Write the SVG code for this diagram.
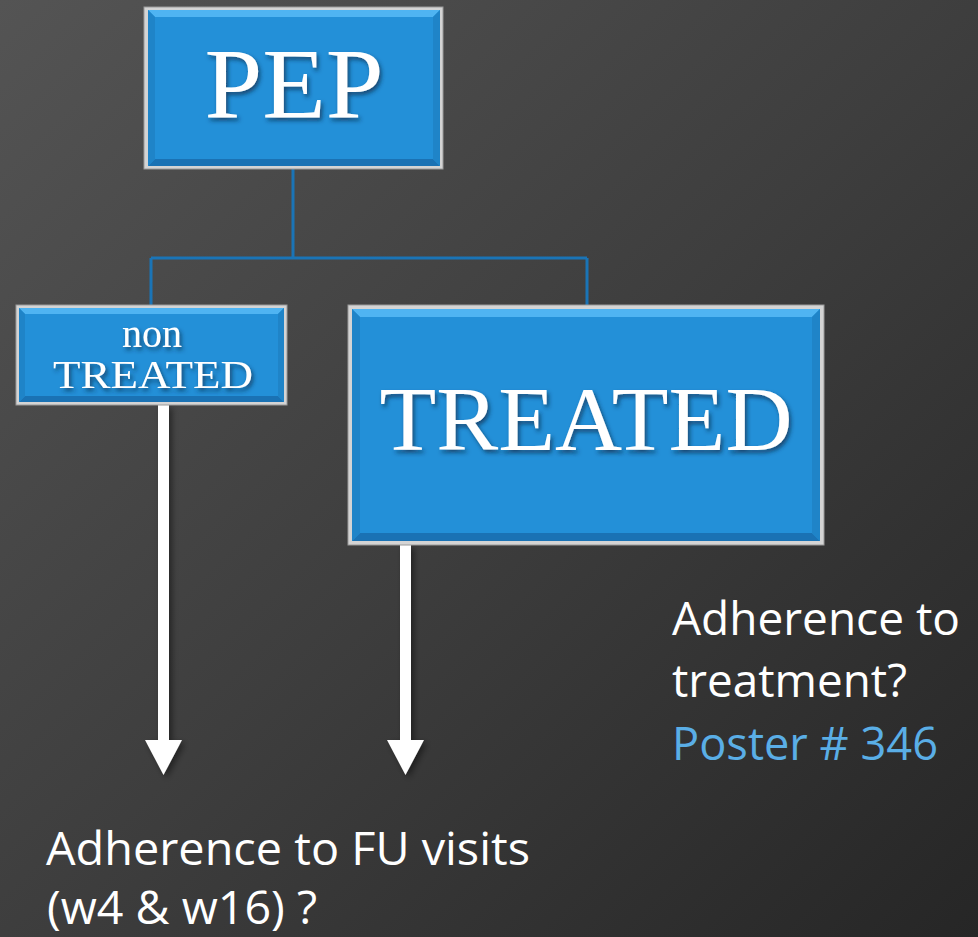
<svg xmlns="http://www.w3.org/2000/svg" width="978" height="937" viewBox="0 0 978 937">
<defs>
<linearGradient id="bg" x1="0" y1="0" x2="1" y2="1">
<stop offset="0" stop-color="#545454"/>
<stop offset="0.5" stop-color="#3e3e3e"/>
<stop offset="1" stop-color="#262626"/>
</linearGradient>
<filter id="tsh" x="-10%" y="-10%" width="130%" height="140%">
<feDropShadow dx="2" dy="3" stdDeviation="2" flood-color="#0a2a45" flood-opacity="0.7"/>
</filter>
<filter id="bsh" x="-10%" y="-10%" width="130%" height="130%">
<feDropShadow dx="3" dy="3" stdDeviation="3" flood-color="#000" flood-opacity="0.45"/>
</filter>
<style>
.frame{fill:#d4d4d4;stroke:#9a9a9a;stroke-width:1}
.face{fill:#2390d8}
.hi{fill:#4fb4f2}
.lo{fill:#1a72b4}
.side{fill:#1f84c8}
.lbl{fill:#ffffff;font-family:"Liberation Serif","Times New Roman",serif;text-anchor:middle}
.conn{fill:none;stroke:#1a74b6;stroke-width:3}
.arrow{fill:#ffffff}
.txt{fill:#ffffff;font-family:"Open Sans","Noto Sans",sans-serif;font-size:46px}
.blue{fill:#5aaee6}
</style>
</defs>
<rect x="0" y="0" width="978" height="937" fill="url(#bg)"/>

<g id="connectors">
<path class="conn" d="M293,169 V258 M151,258 H587 M151,258 V306 M587,258 V306"/>
<g filter="url(#bsh)">
<polygon class="arrow" points="158,405 169,405 169,740 182,740 163.5,775 145,740 158,740"/>
<polygon class="arrow" points="400,545 411,545 411,740 424,740 405.5,775 387,740 400,740"/>
</g>
</g>

<g id="pep">
<rect class="frame" x="144" y="7" width="299" height="162"/>
<rect class="face" x="148" y="10" width="292" height="156"/>
<polygon class="hi" points="148,10 440,10 433,17 155,17"/>
<polygon class="lo" points="148,166 440,166 433,159 155,159"/>
<polygon class="side" points="148,10 155,17 155,159 148,166"/>
<polygon class="side" points="440,10 433,17 433,159 440,166"/>
<text class="lbl" x="294" y="117" font-size="100" textLength="179" lengthAdjust="spacingAndGlyphs" filter="url(#tsh)">PEP</text>
</g>

<g id="non-treated">
<rect class="frame" x="16" y="305" width="271" height="100"/>
<rect class="face" x="19" y="308" width="265" height="94"/>
<polygon class="hi" points="19,308 284,308 278,314 25,314"/>
<polygon class="lo" points="19,402 284,402 278,396 25,396"/>
<polygon class="side" points="19,308 25,314 25,396 19,402"/>
<polygon class="side" points="284,308 278,314 278,396 284,402"/>
<text class="lbl" x="152" y="347" font-size="40" filter="url(#tsh)">non</text>
<text class="lbl" x="153" y="388" font-size="40" textLength="200" lengthAdjust="spacingAndGlyphs" filter="url(#tsh)">TREATED</text>
</g>

<g id="treated">
<rect class="frame" x="348" y="305" width="476" height="240"/>
<rect class="face" x="352" y="309" width="468" height="232"/>
<polygon class="hi" points="352,309 820,309 812,317 360,317"/>
<polygon class="lo" points="352,541 820,541 812,533 360,533"/>
<polygon class="side" points="352,309 360,317 360,533 352,541"/>
<polygon class="side" points="820,309 812,317 812,533 820,541"/>
<text class="lbl" x="586" y="450" font-size="90" textLength="413" lengthAdjust="spacingAndGlyphs" filter="url(#tsh)">TREATED</text>
</g>

<g id="adherence-treatment">
<text class="txt" x="672" y="635" textLength="288" lengthAdjust="spacingAndGlyphs">Adherence to</text>
<text class="txt" x="672" y="697" textLength="235" lengthAdjust="spacingAndGlyphs">treatment?</text>
<text class="txt blue" x="672" y="760" textLength="266" lengthAdjust="spacingAndGlyphs">Poster # 346</text>
</g>

<g id="adherence-fu">
<text class="txt" x="46" y="865" textLength="484" lengthAdjust="spacingAndGlyphs">Adherence to FU visits</text>
<text class="txt" x="47" y="924" textLength="270" lengthAdjust="spacingAndGlyphs">(w4 &amp; w16) ?</text>
</g>
</svg>
